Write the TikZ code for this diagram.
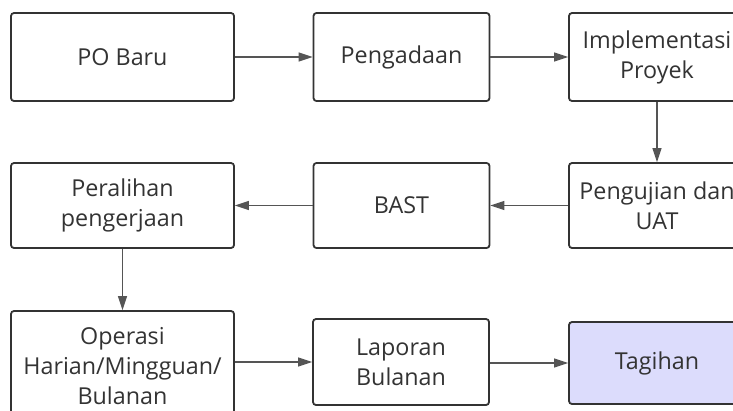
\documentclass[tikz,border=0pt]{standalone}
\usepackage{fontspec}
\setmainfont{Open Sans}
\usetikzlibrary{arrows.meta}
\definecolor{boxline}{HTML}{333333}
\definecolor{txt}{HTML}{333333}
\definecolor{arr}{HTML}{555555}
\definecolor{lav}{HTML}{DCDCFC}
\tikzset{
  box/.style={draw=boxline, line width=1.8pt, rounded corners=3pt, fill=white,
    text=txt, align=center, inner sep=0pt,
    font=\fontsize{23.3}{30}\selectfont},
  wide/.style={box, minimum width=223pt},
  narrow/.style={box, minimum width=176pt},
  conn/.style={draw=arr, line width=1.2pt, -{Triangle[length=14pt,width=9pt]}}
}
\begin{document}
\begin{tikzpicture}[x=1pt,y=-1pt]
\useasboundingbox (0,0) rectangle (733,410);
\node[wide, minimum height=88pt] (A) at (122.5,57) {PO Baru};
\node[narrow, minimum height=88pt] (B) at (401.5,57) {Pengadaan};
\node[narrow, minimum height=88pt] (C) at (657,57) {Implementasi\\Proyek};
\node[narrow, minimum height=85pt] (D) at (657,205.5) {Pengujian dan\\UAT};
\node[narrow, minimum height=85pt] (E) at (401.5,205.5) {BAST};
\node[wide, minimum height=85pt] (F) at (122.5,205.5) {Peralihan\\pengerjaan};
\node[wide, minimum height=110pt] (G) at (122.5,366) {Operasi\\Harian/Mingguan/\\Bulanan};
\node[narrow, minimum height=86pt] (H) at (401,362) {Laporan\\Bulanan};
\node[narrow, minimum height=82pt, fill=lav] (I) at (657,363) {Tagihan};
\draw[conn] (A) -- (B);
\draw[conn] (B) -- (C);
\draw[conn] (C) -- (D);
\draw[conn] (D) -- (E);
\draw[conn] (E) -- (F);
\draw[conn] (F) -- (G);
\draw[conn] (G.east |- H.west) -- (H.west);
\draw[conn] (H.east |- I.west) -- (I.west);
\end{tikzpicture}
\end{document}
